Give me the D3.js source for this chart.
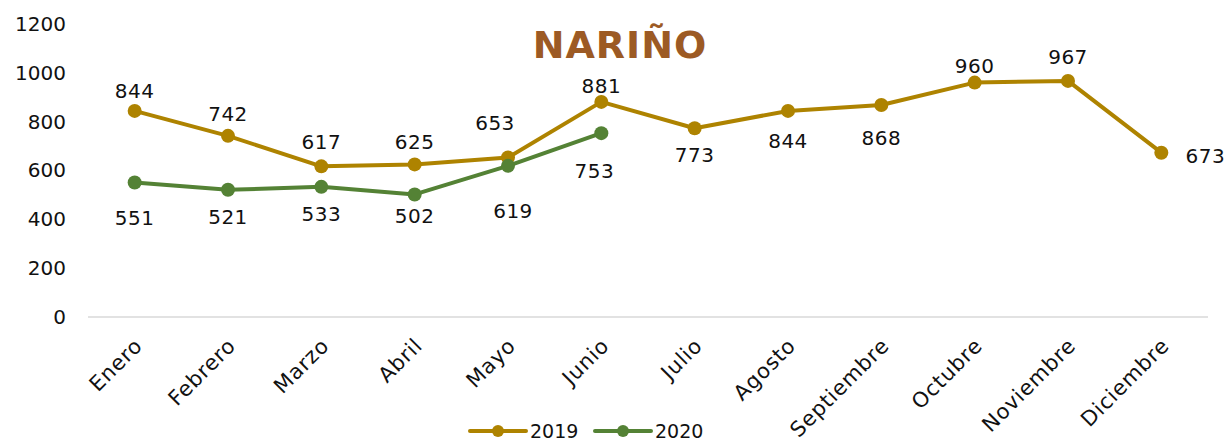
<!DOCTYPE html>
<html>
<head>
<meta charset="utf-8">
<script src="https://cdn.jsdelivr.net/npm/d3@7"></script>
<style>
  body { margin: 0; background: #fff; }
  svg { display: block; font-family: "DejaVu Sans", sans-serif; }
</style>
</head>
<body>
<svg id="chart" width="1227" height="444"></svg>
<script>
const months = ['Enero', 'Febrero', 'Marzo', 'Abril', 'Mayo', 'Junio', 'Julio',
  'Agosto', 'Septiembre', 'Octubre', 'Noviembre', 'Diciembre'];
const values2019 = [844, 742, 617, 625, 653, 881, 773, 844, 868, 960, 967, 673];
const values2020 = [551, 521, 533, 502, 619, 753];
const yTicks = [0, 200, 400, 600, 800, 1000, 1200];

// label nudges (dx, dy from the point), as placed in the original slide
const labelShift2019 = [[0, -13], [0, -15], [0, -17], [0, -15], [-13, -28], [0, -9],
  [0, 34], [0, 37], [0, 40], [0, -10], [0, -17], [44, 10]];
const labelShift2020 = [[0, 43], [0, 34], [0, 34], [0, 29], [5, 52], [-7, 45]];

const svg = d3.select('#chart');

const x = d3.scaleBand()
  .domain(months)
  .range([88, 1208]);

const y = d3.scaleLinear()
  .domain([0, 1200])
  .range([317, 24]);

const cx = m => x(m) + x.bandwidth() / 2;

// Title
svg.append('text')
  .attr('x', 620)
  .attr('y', 58)
  .attr('text-anchor', 'middle')
  .style('font-size', '38px')
  .style('font-weight', 'bold')
  .style('letter-spacing', '1px')
  .style('fill', '#9C5A24')
  .text('NARIÑO');

// Y axis labels
const yAxis = d3.axisLeft(y).tickValues(yTicks).tickFormat(d3.format('d')).tickSize(0).tickPadding(0);
svg.append('g')
  .attr('transform', 'translate(66, 0)')
  .call(yAxis)
  .call(g => g.select('.domain').remove())
  .selectAll('text')
  .style('font-size', '20px')
  .style('font-family', '"DejaVu Sans", sans-serif')
  .style('fill', '#111');

// Baseline
svg.append('line')
  .attr('x1', 88).attr('x2', 1208)
  .attr('y1', y(0)).attr('y2', y(0))
  .attr('stroke', '#d9d9d9')
  .attr('stroke-width', 1.5);

// X axis labels
const xAxis = d3.axisBottom(x).tickSize(0).tickPadding(0);
svg.append('g')
  .attr('transform', `translate(0, ${y(0)})`)
  .call(xAxis)
  .call(g => g.select('.domain').remove())
  .selectAll('text')
  .attr('text-anchor', 'end')
  .attr('dy', 0)
  .attr('transform', 'translate(9, 30) rotate(-45)')
  .style('font-size', '21px')
  .style('letter-spacing', '0.8px')
  .style('font-family', '"DejaVu Sans", sans-serif')
  .style('fill', '#111');

const line = d3.line()
  .x((_, i) => cx(months[i]))
  .y(d => y(d));

function drawSeries(data, color, shifts) {
  svg.append('path')
    .datum(data)
    .attr('fill', 'none')
    .attr('stroke', color)
    .attr('stroke-width', 4)
    .attr('stroke-linejoin', 'round')
    .attr('d', line);

  svg.selectAll(null)
    .data(data)
    .enter()
    .append('circle')
    .attr('cx', (_, i) => cx(months[i]))
    .attr('cy', d => y(d))
    .attr('r', 7)
    .attr('fill', color);

  svg.selectAll(null)
    .data(data)
    .enter()
    .append('text')
    .attr('x', (_, i) => cx(months[i]) + shifts[i][0])
    .attr('y', (d, i) => y(d) + shifts[i][1])
    .attr('text-anchor', 'middle')
    .style('font-size', '20px')
    .style('letter-spacing', '0.5px')
    .style('fill', '#111')
    .text(d => d);
}

drawSeries(values2019, '#AE8300', labelShift2019);
drawSeries(values2020, '#548235', labelShift2020);

// Legend
const legend = [
  { name: '2019', color: '#AE8300', x: 470 },
  { name: '2020', color: '#548235', x: 595 }
];
const lg = svg.selectAll('.legend')
  .data(legend)
  .enter()
  .append('g')
  .attr('class', 'legend')
  .attr('transform', d => `translate(${d.x}, 431)`);
lg.append('line')
  .attr('x1', 0).attr('x2', 56)
  .attr('stroke', d => d.color)
  .attr('stroke-width', 4)
  .attr('stroke-linecap', 'round');
lg.append('circle')
  .attr('cx', 28)
  .attr('r', 6)
  .attr('fill', d => d.color);
lg.append('text')
  .attr('x', 60)
  .attr('y', 7)
  .style('font-size', '19px')
  .style('fill', '#111')
  .text(d => d.name);
</script>
</body>
</html>
